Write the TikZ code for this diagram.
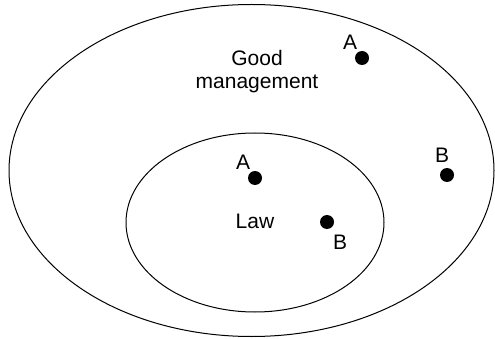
\documentclass[tikz,border=0pt]{standalone}
\usepackage{fontspec}
\setmainfont{Liberation Sans}
\usepackage{tikz}
\usetikzlibrary{positioning}

\tikzset{
  region/.style={draw,line width=1pt},
  member/.style={circle,fill=black,inner sep=0pt,minimum size=14pt},
  tag/.style={inner sep=0pt,font=\fontsize{21}{24}\selectfont}
}

\begin{document}
\begin{tikzpicture}[x=1pt,y=-1pt]
    \useasboundingbox (0,0) rectangle (495,339);

    % the two regions
    \draw[region] (251.5,170.5) ellipse [x radius=242.5,y radius=166];
    \draw[region] (255,222.5) ellipse [x radius=129,y radius=89.5];

    \node[tag,align=center] (goodmgmt) at (257,72)
      {Good\\[-1pt]management};
    \node[tag] (law) at (255,221) {Law};

    % cases A and B
    \node[member] (outerA) at (362,58) {};
    \node[tag] (outerAtag) at (350,42) {A};
    \node[member] (outerB) at (447,175) {};
    \node[tag] (outerBtag) at (442,155) {B};
    \node[member] (innerA) at (255,178) {};
    \node[tag] (innerAtag) at (243,162) {A};
    \node[member] (innerB) at (327,222) {};
    \node[tag] (innerBtag) at (340,242) {B};
\end{tikzpicture}
\end{document}
